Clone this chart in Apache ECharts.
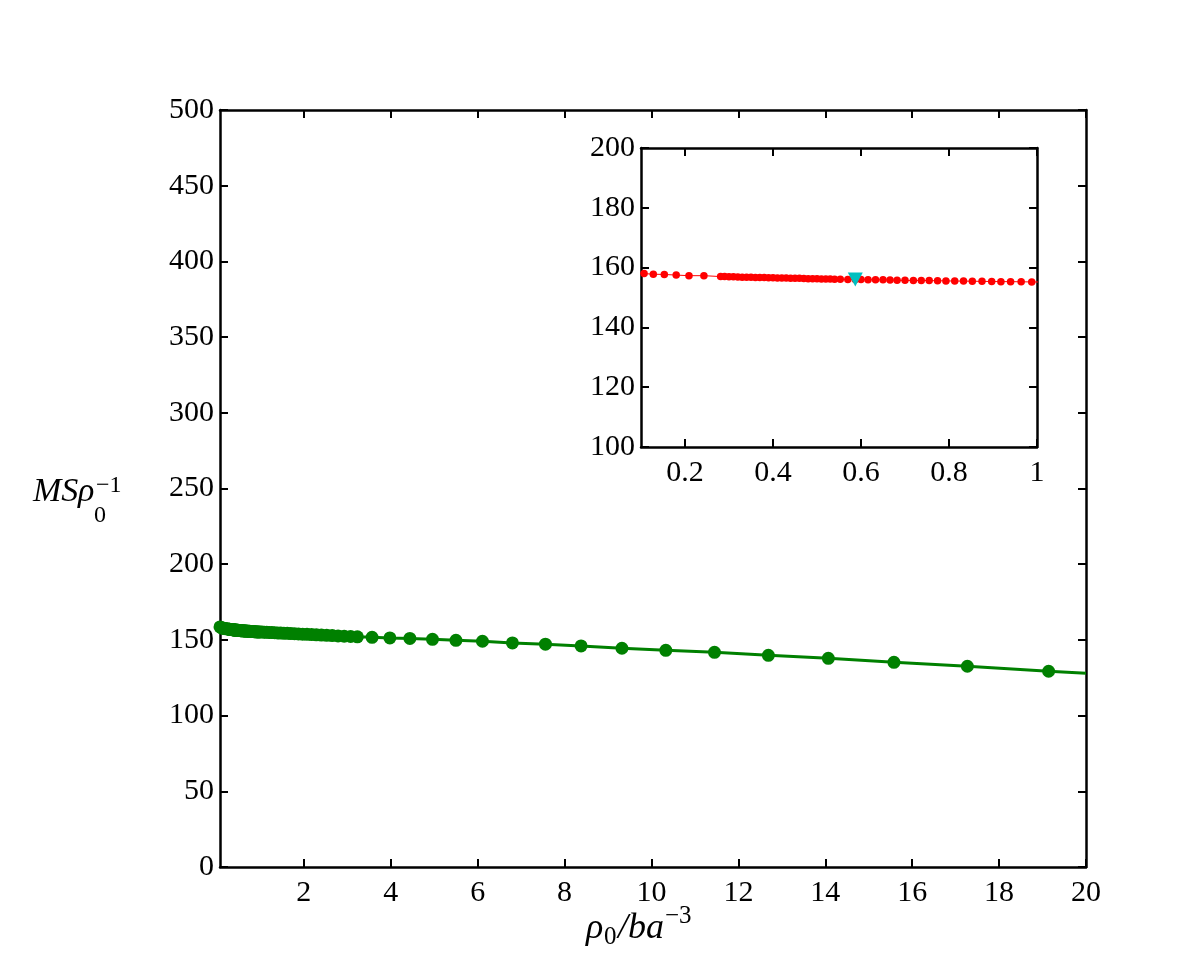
<!DOCTYPE html>
<html lang="en">
<head>
<meta charset="UTF-8">
<title>MS rho</title>
<script src="https://cdn.jsdelivr.net/npm/echarts@6.0.0/dist/echarts.min.js"></script>
<style>
  html, body { margin: 0; padding: 0; background: #fff; }
  #chart { width: 1200px; height: 974px; }
</style>
</head>
<body>
<div id="chart"></div>
<script>
// density values (rho0 / b a^-3)
var rhoVals = [0.07, 0.107, 0.128, 0.153, 0.180, 0.209, 0.243, 0.281, 0.29, 0.30,
  0.31, 0.32, 0.33, 0.34, 0.35, 0.36, 0.37, 0.38, 0.39, 0.40,
  0.41, 0.42, 0.43, 0.44, 0.45, 0.46, 0.47, 0.48, 0.49, 0.50,
  0.51, 0.52, 0.53, 0.54, 0.553, 0.57, 0.587, 0.60, 0.616, 0.633,
  0.650, 0.666, 0.682, 0.700, 0.719, 0.737, 0.755, 0.774, 0.793, 0.813,
  0.833, 0.853, 0.875, 0.897, 0.918, 0.940, 0.964, 0.988, 1.037, 1.09,
  1.145, 1.203, 1.264, 1.328, 1.395, 1.466, 1.54, 1.618, 1.7, 1.786,
  1.877, 1.972, 2.072, 2.177, 2.287, 2.403, 2.525, 2.652, 2.787, 2.928,
  3.076, 3.232, 3.57, 3.98, 4.44, 4.96, 5.50, 6.11, 6.80, 7.56,
  8.38, 9.32, 10.33, 11.45, 12.69, 14.07, 15.58, 17.27, 19.14];
// MS / rho0
var msVals = [158.6, 158.0, 157.8, 157.7, 157.5, 157.3, 157.3, 157.0, 157.0, 156.95,
  156.9, 156.85, 156.8, 156.8, 156.75, 156.7, 156.7, 156.65, 156.6, 156.6,
  156.55, 156.5, 156.5, 156.45, 156.4, 156.4, 156.35, 156.3, 156.3, 156.25,
  156.2, 156.2, 156.15, 156.1, 156.1, 156.05, 156.0, 156.0, 155.95, 155.9,
  155.9, 155.85, 155.8, 155.75, 155.7, 155.7, 155.65, 155.6, 155.55, 155.5,
  155.5, 155.45, 155.4, 155.35, 155.3, 155.3, 155.25, 155.2, 155.15, 155.07,
  154.99, 154.91, 154.82, 154.73, 154.64, 154.53, 154.43, 154.32, 154.2, 154.08,
  153.95, 153.81, 153.67, 153.52, 153.36, 153.2, 153.02, 152.84, 152.65, 152.45,
  152.24, 152.02, 151.7, 151.3, 151.0, 150.4, 149.7, 149.1, 148.0, 147.2,
  146.0, 144.5, 143.1, 141.8, 139.8, 137.8, 135.2, 132.6, 129.3];
// the fitted line runs on to the right edge
var lineEndX = [20];
var lineEndY = [128.0];
// highlighted point in the inset
var markX = [0.587];
var markY = [156.0];

// tick labels
var mainXTicks = [2, 4, 6, 8, 10, 12, 14, 16, 18, 20];
var insetXTicks = [0.2, 0.4, 0.6, 0.8, 1];

var FONT = 'Liberation Serif';

function pairs(xs, ys) {
  var out = [];
  for (var i = 0; i < xs.length; i++) out.push([xs[i], ys[i]]);
  return out;
}

var chart = echarts.init(document.getElementById('chart'));

function xAx(grid, pos, min, max, ticks, showLabel) {
  return {
    type: 'value', gridIndex: grid, position: pos, min: min, max: max,
    axisLine: { show: true, onZero: false, lineStyle: { color: '#000', width: 2.5 } },
    axisTick: { show: true, inside: true, length: 8, customValues: ticks, lineStyle: { color: '#000', width: 2 } },
    axisLabel: { show: showLabel, customValues: ticks, margin: 11, color: '#000', fontFamily: FONT, fontSize: 30 },
    splitLine: { show: false }
  };
}
function yAx(grid, pos, min, max, step, showLabel) {
  return {
    type: 'value', gridIndex: grid, position: pos, min: min, max: max, interval: step,
    axisLine: { show: true, onZero: false, lineStyle: { color: '#000', width: 2.5 } },
    axisTick: { show: true, inside: true, length: 8, lineStyle: { color: '#000', width: 2 } },
    axisLabel: { show: showLabel, margin: 6, color: '#000', fontFamily: FONT, fontSize: 30 },
    splitLine: { show: false }
  };
}

var option = {
  backgroundColor: '#fff',
  animation: false,
  grid: [
    { left: 220, top: 110, width: 866, height: 757 },
    { left: 641, top: 148, width: 396, height: 299, show: true, backgroundColor: '#fff', borderWidth: 0 }
  ],
  xAxis: [
    xAx(0, 'bottom', 0.07, 20, mainXTicks, true),
    xAx(0, 'top', 0.07, 20, mainXTicks, false),
    xAx(1, 'bottom', 0.1, 1, insetXTicks, true),
    xAx(1, 'top', 0.1, 1, insetXTicks, false)
  ],
  yAxis: [
    yAx(0, 'left', 0, 500, 50, true),
    yAx(0, 'right', 0, 500, 50, false),
    yAx(1, 'left', 100, 200, 20, true),
    yAx(1, 'right', 100, 200, 20, false)
  ],
  series: [
    {
      type: 'line', xAxisIndex: 0, yAxisIndex: 0,
      data: pairs(rhoVals.concat(lineEndX), msVals.concat(lineEndY)),
      showSymbol: false, lineStyle: { color: '#008000', width: 3 }
    },
    {
      type: 'scatter', xAxisIndex: 0, yAxisIndex: 0,
      data: pairs(rhoVals, msVals),
      symbol: 'circle', symbolSize: 13, itemStyle: { color: '#008000', opacity: 1 }
    },
    {
      type: 'line', xAxisIndex: 2, yAxisIndex: 2,
      data: pairs(rhoVals, msVals),
      symbol: 'circle', symbolSize: 7.5, showAllSymbol: true,
      itemStyle: { color: '#ff0000', opacity: 1 }, lineStyle: { color: '#ff0000', width: 1 }
    },
    {
      type: 'scatter', xAxisIndex: 2, yAxisIndex: 2,
      data: pairs(markX, markY),
      symbol: 'triangle', symbolRotate: 180, symbolSize: [15, 14],
      itemStyle: { color: '#00bfbf', opacity: 1 }, z: 5
    }
  ],
  graphic: [
    // y axis title  M S rho_0^-1
    { type: 'text', left: 33, top: 475, style: { text: 'MS', fontFamily: FONT, fontStyle: 'italic', fontSize: 34, fill: '#000' } },
    { type: 'text', left: 78, top: 475, style: { text: 'ρ', fontFamily: FONT, fontStyle: 'italic', fontSize: 34, fill: '#000' } },
    { type: 'text', left: 94, top: 504, style: { text: '0', fontFamily: FONT, fontSize: 24, fill: '#000' } },
    { type: 'text', left: 96, top: 474, style: { text: '−1', fontFamily: FONT, fontSize: 24, fill: '#000' } },
    // x axis title  rho_0 / b a^-3
    { type: 'text', left: 586, top: 911, style: { text: 'ρ', fontFamily: FONT, fontStyle: 'italic', fontSize: 36, fill: '#000' } },
    { type: 'text', left: 604, top: 925, style: { text: '0', fontFamily: FONT, fontSize: 25, fill: '#000' } },
    { type: 'text', left: 618, top: 911, style: { text: '/ba', fontFamily: FONT, fontStyle: 'italic', fontSize: 36, fill: '#000' } },
    { type: 'text', left: 665, top: 904, style: { text: '−3', fontFamily: FONT, fontSize: 25, fill: '#000' } }
  ]
};

chart.setOption(option);
</script>
</body>
</html>
